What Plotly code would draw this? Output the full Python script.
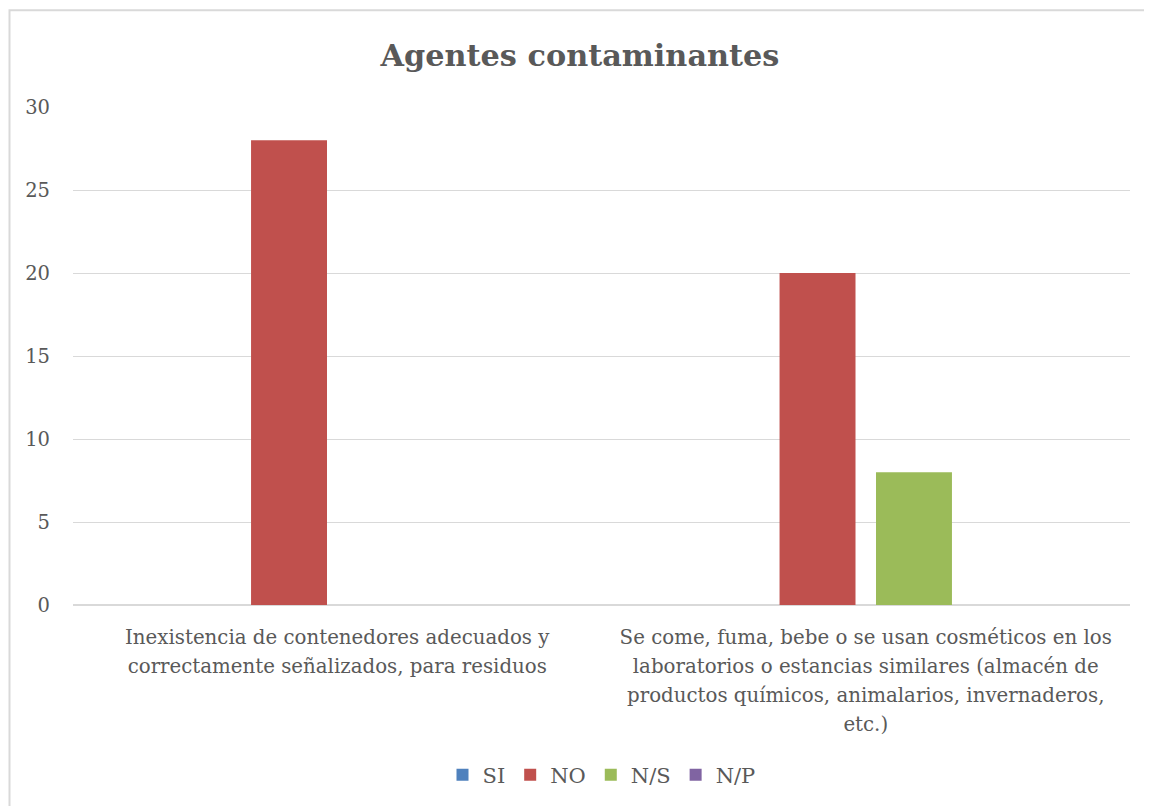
import plotly.graph_objects as go

categories = [
    "Inexistencia de contenedores adecuados y<br>correctamente señalizados, para residuos",
    "Se come, fuma, bebe o se usan cosméticos en los<br>laboratorios o estancias similares (almacén de<br>productos químicos, animalarios, invernaderos,<br>etc.)",
]
series_names = ["SI", "NO", "N/S", "N/P"]
si_values = [0, 0]
no_values = [28, 20]
ns_values = [0, 8]
np_values = [0, 0]
colors = ["#4f81bd", "#c0504d", "#9bbb59", "#8064a2"]
y_ticks = [0, 5, 10, 15, 20, 25, 30]

FONT = "DejaVu Serif"
GRAY = "#595959"
LABEL_SIZE = 19.8

fig = go.Figure()
for name, vals, col in zip(series_names, [si_values, no_values, ns_values, np_values], colors):
    fig.add_trace(go.Bar(name=name, x=categories, y=vals, marker=dict(color=col, line=dict(width=0))))

# page body has an 8px margin; work in screenshot pixel coordinates
OFF = 8
W, H = 1152 - OFF, 806 - OFF
L, R, T, B = 73 - OFF, 1130 - OFF, 107 - OFF, 606 - OFF
pw, ph = R - L, B - T

def px_x(x):
    return (x - OFF - L) / pw

def px_y(y):
    return (B - (y - OFF)) / ph

ticktext = ["<br>".join(f'<span style="font-size:{LABEL_SIZE}px">{ln}</span>' for ln in c.split("<br>"))
            for c in categories]

fig.update_layout(
    width=W, height=H,
    margin=dict(l=L, r=W - R, t=T, b=H - B),
    paper_bgcolor="white", plot_bgcolor="white",
    barmode="group", bargap=0.27, bargroupgap=0.2125,
    font=dict(family=FONT, color=GRAY, size=19),
    title=dict(text="<b>Agentes contaminantes</b>", x=0.5, xanchor="center",
               y=1 - (55 - OFF) / H, yanchor="middle",
               font=dict(family=FONT, size=30.3, color=GRAY)),
    showlegend=True,
    legend=dict(orientation="h", x=0.5, xanchor="center", y=px_y(775), yanchor="middle",
                font=dict(family=FONT, size=21, color=GRAY), itemwidth=30,
                traceorder="normal"),
    xaxis=dict(showgrid=False, showline=True, linecolor="#d9d9d9", linewidth=1,
               ticks="", tickvals=categories, ticktext=ticktext, ticklabelstandoff=11,
               tickfont=dict(family=FONT, size=22.3, color=GRAY)),
    yaxis=dict(range=[0, 30], tickvals=y_ticks, showgrid=True, gridcolor="#d9d9d9",
               gridwidth=1, zeroline=True, zerolinecolor="#d9d9d9", showline=False,
               ticks="", ticklabelstandoff=22,
               tickfont=dict(family=FONT, size=19.5, color=GRAY)),
    shapes=[dict(type="rect", xref="paper", yref="paper",
                 x0=px_x(9.5), x1=px_x(1175), y0=px_y(830), y1=px_y(10),
                 line=dict(color="#d9d9d9", width=2), fillcolor="rgba(0,0,0,0)", layer="below")],
)

fig.write_html("out.html")
